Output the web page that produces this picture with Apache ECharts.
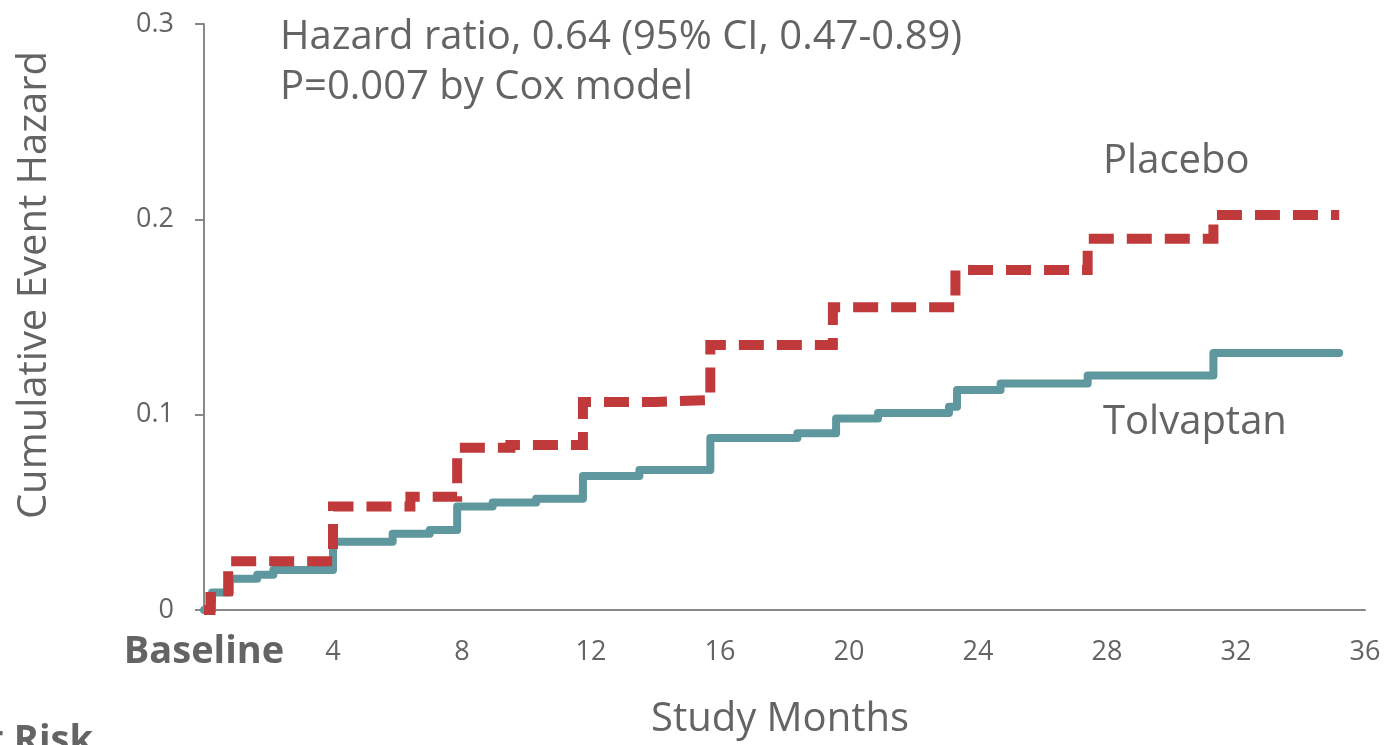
<!DOCTYPE html>
<html><head><meta charset="utf-8">
<script src="https://cdn.jsdelivr.net/npm/echarts@6/dist/echarts.min.js"></script>
<style>html,body{margin:0;padding:0;background:#fff}#c{width:1384px;height:745px}</style>
</head><body><div id="c"></div>
<script>
// Data (months, cumulative event hazard) - step changes
const tolvaptan = [[0,0],[0.25,0.009],[0.8,0.016],[1.65,0.018],[2.15,0.0205],[4.0,0.035],[5.85,0.039],[7.0,0.041],[7.85,0.053],[8.95,0.055],[10.3,0.057],[11.75,0.0686],[13.5,0.0717],[15.7,0.088],[18.4,0.0905],[19.6,0.098],[20.9,0.1008],[23.1,0.104],[23.35,0.1126],[24.7,0.116],[27.4,0.120],[31.3,0.1316],[35.2,0.1316]];
const placebo = [[0,0],[0.2,0.0067],[0.75,0.025],[4.0,0.053],[6.4,0.058],[7.85,0.083],[9.5,0.0845],[11.75,0.1065],[14.0,0.1075],[15.7,0.1357],[19.5,0.155],[23.3,0.174],[27.4,0.19],[31.3,0.2022],[35.2,0.2022]];
const xTicks = [0,4,8,12,16,20,24,28,32,36];
const yTicks = [0,0.1,0.2,0.3];
const seriesNames = ['Tolvaptan','Placebo'];
const annot = ['Hazard ratio, 0.64 (95% CI, 0.47-0.89)','P=0.007 by Cox model'];

const FONT = 'Open Sans';
const TXT = '#646464';
const chart = echarts.init(document.getElementById('c'));
chart.setOption({
  animation:false,
  textStyle:{fontFamily:FONT},
  grid:{left:204,right:19,top:24,bottom:135},
  xAxis:{type:'value',min:0,max:36,interval:4,
    axisLine:{lineStyle:{color:'#888',width:2}},
    axisTick:{show:false},splitLine:{show:false},
    axisLabel:{margin:22,color:TXT,fontSize:27,fontFamily:FONT,lineHeight:40,
      formatter:v=>v===0?'{b|Baseline}':String(v),
      rich:{b:{fontSize:38,fontWeight:'bold',color:TXT,fontFamily:FONT,lineHeight:40}}}},
  yAxis:{type:'value',min:0,max:0.3,interval:0.1,
    axisLine:{show:true,lineStyle:{color:'#888',width:2}},
    axisTick:{show:true,length:9,lineStyle:{color:'#888',width:2}},
    splitLine:{show:false},
    axisLabel:{margin:30,color:TXT,fontSize:27,fontFamily:FONT,formatter:v=>String(+v.toFixed(1))}},
  series:[
    {name:seriesNames[0],type:'line',step:'end',data:tolvaptan,symbol:'none',
     lineStyle:{color:'#5E989E',width:8,cap:'round',join:'round'},z:2},
    {name:seriesNames[1],type:'line',step:'end',data:placebo,symbol:'none',
     lineStyle:{color:'#C0393B',width:10,type:[25,13],cap:'butt',join:'miter'},z:3}
  ],
  graphic:[
    {type:'text',x:280,y:38,style:{text:annot[0],fontSize:40,fill:TXT,fontFamily:FONT,verticalAlign:'middle'}},
    {type:'text',x:280,y:88,style:{text:annot[1],fontSize:40,fill:TXT,fontFamily:FONT,verticalAlign:'middle'}},
    {type:'text',x:1103,y:162,style:{text:'Placebo',fontSize:40,fill:TXT,fontFamily:FONT,verticalAlign:'middle'}},
    {type:'text',x:1103,y:423,style:{text:'Tolvaptan',fontSize:40,fill:TXT,fontFamily:FONT,verticalAlign:'middle'}},
    {type:'text',x:780,y:720,style:{text:'Study Months',fontSize:40,fill:TXT,fontFamily:FONT,align:'center',verticalAlign:'middle'}},
    {type:'text',x:35,y:285,rotation:Math.PI/2,style:{text:'Cumulative Event Hazard',fontSize:40,fill:TXT,fontFamily:FONT,align:'center',verticalAlign:'middle'}},
    {type:'text',x:93,y:722,style:{text:'at Risk',fontSize:38,fontWeight:'bold',fill:TXT,fontFamily:FONT,align:'right',verticalAlign:'top'}}
  ]
});
</script></body></html>
